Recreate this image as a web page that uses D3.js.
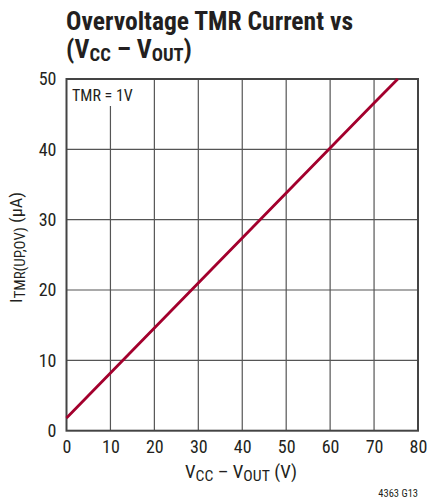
<!DOCTYPE html>
<html><head><meta charset="utf-8">
<script src="https://cdn.jsdelivr.net/npm/d3@7"></script>
<style>body{margin:0;background:#fff}svg{display:block}</style>
</head><body>
<svg id="c" width="428" height="502"></svg>
<script>
const xTicks = [0,10,20,30,40,50,60,70,80];
const yTicks = [0,10,20,30,40,50];
const vDiff = [0, 10, 20, 30, 40, 50, 60, 70, 75.4];
const iTmr = [1.8, 8.2, 14.6, 21.0, 27.4, 33.8, 40.2, 46.6, 50];

const svg = d3.select("#c");
const font = "'Liberation Sans Narrow','Roboto Condensed','Liberation Sans',Arial,sans-serif";
const L=66.5, R=418, T=79, B=430.7;
const x = d3.scaleLinear().domain([0,80]).range([L,R]);
const y = d3.scaleLinear().domain([0,50]).range([B,T]);

// title
svg.append("text").attr("x",66).attr("y",30).attr("font-family",font).attr("font-weight","bold")
  .attr("font-size",25).attr("fill","#231f20").attr("textLength",287).attr("lengthAdjust","spacingAndGlyphs")
  .text("Overvoltage TMR Current vs");
const t2 = svg.append("text").attr("x",66).attr("y",58).attr("font-family",font).attr("font-weight","bold")
  .attr("font-size",25).attr("fill","#231f20").attr("textLength",126).attr("lengthAdjust","spacingAndGlyphs");
t2.append("tspan").text("(V");
t2.append("tspan").attr("font-size",18).attr("dy",3).text("CC");
t2.append("tspan").attr("dy",-3).text(" – V");
t2.append("tspan").attr("font-size",18).attr("dy",3).text("OUT");
t2.append("tspan").attr("dy",-3).text(")");

// grid
const g = svg.append("g");
g.selectAll("line.v").data(xTicks.slice(1,-1)).enter().append("line")
  .attr("x1",d=>x(d)).attr("x2",d=>x(d)).attr("y1",T).attr("y2",B)
  .attr("stroke","#555").attr("stroke-width",1.2);
g.selectAll("line.h").data(yTicks.slice(1,-1)).enter().append("line")
  .attr("x1",L).attr("x2",R).attr("y1",d=>y(d)).attr("y2",d=>y(d))
  .attr("stroke","#555").attr("stroke-width",1.2);

// annotation box
svg.append("rect").attr("x",L+1).attr("y",T+1).attr("width",50).attr("height",26).attr("fill","#fff");
svg.append("text").attr("x",72).attr("y",101).attr("font-family",font).attr("font-size",16)
  .attr("fill","#231f20").text("TMR = 1V");

// frame
svg.append("rect").attr("x",L).attr("y",T).attr("width",R-L).attr("height",B-T)
  .attr("fill","none").attr("stroke","#444").attr("stroke-width",2);

// line
svg.append("path").datum(vDiff.map((v,i)=>[v,iTmr[i]]))
  .attr("d",d3.line().x(d=>x(d[0])).y(d=>y(d[1])))
  .attr("fill","none").attr("stroke","#a3002d").attr("stroke-width",2.8);

// axes labels
const xa = svg.append("g").attr("transform",`translate(0,${B})`)
  .call(d3.axisBottom(x).tickValues(xTicks).tickSize(0).tickPadding(10).tickFormat(d3.format("d")));
xa.select(".domain").remove();
xa.selectAll("text").attr("font-family",font).attr("font-size",18).attr("fill","#231f20");
const ya = svg.append("g").attr("transform",`translate(${L},0)`)
  .call(d3.axisLeft(y).tickValues(yTicks).tickSize(0).tickPadding(10).tickFormat(d3.format("d")));
ya.select(".domain").remove();
ya.selectAll("text").attr("font-family",font).attr("font-size",18).attr("fill","#231f20");

// x title
const xt = svg.append("text").attr("x",185).attr("y",478)
  .attr("font-family",font).attr("font-size",18).attr("fill","#231f20")
  .attr("textLength",112).attr("lengthAdjust","spacingAndGlyphs");
xt.append("tspan").text("V");
xt.append("tspan").attr("font-size",15).attr("dy",3).text("CC");
xt.append("tspan").attr("dy",-3).text(" – V");
xt.append("tspan").attr("font-size",15).attr("dy",3).text("OUT");
xt.append("tspan").attr("dy",-3).text(" (V)");

// y title
const yt = svg.append("text").attr("transform","translate(22,303) rotate(-90)")
  .attr("font-family",font).attr("font-size",17).attr("fill","#231f20")
  .attr("textLength",111).attr("lengthAdjust","spacingAndGlyphs");
yt.append("tspan").text("I");
yt.append("tspan").attr("font-size",14).attr("dy",3).text("TMR(UP,OV)");
yt.append("tspan").attr("dy",-3).text(" (µA)");

svg.append("text").attr("x",418).attr("y",497).attr("text-anchor","end").attr("font-family",font)
  .attr("font-size",10.5).attr("fill","#231f20").text("4363 G13");
</script>
</body></html>
